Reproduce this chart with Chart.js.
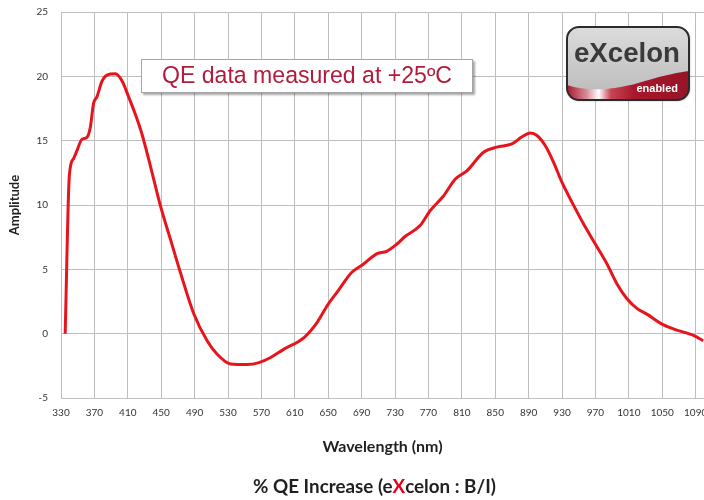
<!DOCTYPE html>
<html><head><meta charset="utf-8">
<script src="https://cdn.jsdelivr.net/npm/chart.js@4.4.1/dist/chart.umd.min.js"></script>
<style>html,body{margin:0;padding:0;background:#fff}#wrap{position:relative;width:704px;height:500px}</style>
</head><body><div id="wrap"><canvas id="c"></canvas></div>
<script>
const wavelengths = [335,340,345,349,355,361,365,369,373,379,385,395,403,411,419,427,437,449,461,473,489,505,517,533,553,567,581,597,621,637,649,662,678,692,708,720,732,742,760,772,788,802,816,836,852,870,882,892,900,910,920,930,942,956,970,984,996,1008,1020,1032,1048,1064,1088,1099];
const amplitude   = [0,12.3,13.6,14.2,15.1,15.25,16.0,17.9,18.4,19.6,20.1,20.2,19.65,18.4,17.05,15.5,13.05,9.95,7.35,4.75,1.55,-0.55,-1.6,-2.35,-2.4,-2.25,-1.85,-1.2,-0.3,0.9,2.2,3.35,4.75,5.4,6.2,6.4,6.95,7.55,8.4,9.55,10.7,12.0,12.65,14.1,14.5,14.75,15.3,15.6,15.4,14.6,13.3,11.75,10.2,8.5,6.95,5.4,3.85,2.7,1.95,1.5,0.8,0.35,-0.15,-0.55];
const xTicks = [330,370,410,450,490,530,570,610,650,690,730,770,810,850,890,930,970,1010,1050,1090];
const yTicks = [-5,0,5,10,15,20,25];
const xTitle = 'Wavelength (nm)';
const yTitle = 'Amplitude';
const annotationText = 'QE data measured at +25ºC';
const captionParts = [['% QE Increase (e','#1f1f1f'],['X','#e3001b'],['celon : B/I)','#1f1f1f']];
const logoWord = 'eXcelon';
const logoSub = 'enabled';

const points = wavelengths.map((w,i)=>({x:w,y:amplitude[i]}));

function fitFont(ctx, text, weight, family, targetW){
  ctx.font = weight+' 100px '+family;
  const w = ctx.measureText(text).width;
  return 100*targetW/w;
}

const overlay = {
  id:'overlay',
  afterDraw(chart){
    const ctx = chart.ctx;
    ctx.save();
    ctx.save();
    ctx.shadowColor='rgba(0,0,0,0.35)';
    ctx.shadowOffsetX=2; ctx.shadowOffsetY=2; ctx.shadowBlur=2;
    ctx.fillStyle='#fff';
    ctx.fillRect(141,59,332,34);
    ctx.restore();
    ctx.strokeStyle='#a6a6a6'; ctx.lineWidth=1;
    ctx.strokeRect(141.5,59.5,331,33);
    const fs = fitFont(ctx, annotationText, 'normal', '"Liberation Sans"', 290);
    ctx.font = 'normal '+fs.toFixed(2)+'px "Liberation Sans"';
    ctx.fillStyle='#b01c3c'; ctx.textAlign='center'; ctx.textBaseline='middle';
    ctx.fillText(annotationText, 307, 77);

    const lx=567, ly=27, lw=122, lh=73, r=12;
    const rr = ()=>{ctx.beginPath();ctx.roundRect(lx,ly,lw,lh,r);};
    ctx.save();
    ctx.shadowColor='rgba(0,0,0,0.3)'; ctx.shadowOffsetX=1; ctx.shadowOffsetY=1; ctx.shadowBlur=2;
    rr();
    const g = ctx.createLinearGradient(0,ly,0,ly+lh);
    g.addColorStop(0,'#dcdcdc'); g.addColorStop(1,'#b9b9b9');
    ctx.fillStyle=g; ctx.fill();
    ctx.restore();
    ctx.save();
    rr(); ctx.clip();
    ctx.beginPath();
    ctx.moveTo(lx, 85);
    ctx.bezierCurveTo(590, 93, 620, 89, 645, 81);
    ctx.bezierCurveTo(665, 75, 680, 72, lx+lw, 71);
    ctx.lineTo(lx+lw, ly+lh); ctx.lineTo(lx, ly+lh); ctx.closePath();
    const rg = ctx.createLinearGradient(lx,0,lx+lw,0);
    rg.addColorStop(0,'#a8182c'); rg.addColorStop(0.16,'#d88a96'); rg.addColorStop(0.26,'#ffffff');
    rg.addColorStop(0.36,'#c84455'); rg.addColorStop(0.55,'#a8182b'); rg.addColorStop(1,'#961426');
    ctx.fillStyle=rg; ctx.fill();
    ctx.restore();
    rr(); ctx.strokeStyle='#2b2b2b'; ctx.lineWidth=2; ctx.stroke();
    const lfs = fitFont(ctx, logoWord, 'bold', '"Liberation Sans"', 106);
    ctx.font = 'bold '+lfs.toFixed(2)+'px "Liberation Sans"';
    ctx.fillStyle='#3a3a3a'; ctx.textAlign='left'; ctx.textBaseline='alphabetic';
    ctx.fillText(logoWord, 574, 62);
    ctx.font='bold 11px "Liberation Sans"';
    ctx.fillStyle='#ffffff'; ctx.textAlign='right';
    ctx.fillText(logoSub, 678, 92);

    const full = captionParts.map(p=>p[0]).join('');
    const cfs = fitFont(ctx, full, 'bold', 'Lato', 242);
    ctx.font = 'bold '+cfs.toFixed(2)+'px Lato';
    ctx.textBaseline='middle'; ctx.textAlign='left';
    let x = 374 - ctx.measureText(full).width/2;
    for (const [t,c] of captionParts){
      ctx.fillStyle=c; ctx.fillText(t, x, 487);
      x += ctx.measureText(t).width;
    }
    ctx.restore();
  }
};

new Chart(document.getElementById('c'), {
  type:'line',
  data:{datasets:[{data:points, borderColor:'#e8141c', borderWidth:3, pointRadius:0, fill:false, cubicInterpolationMode:'monotone'}]},
  options:{
    responsive:true, maintainAspectRatio:false, animation:false, devicePixelRatio:1,
    layout:{padding:{top:12,right:0,bottom:40,left:0}},
    plugins:{legend:{display:false}, tooltip:{enabled:false}},
    scales:{
      x:{type:'linear', min:330, max:1100,
        afterBuildTicks:s=>{s.ticks = xTicks.map(v=>({value:v}));},
        afterFit:s=>{s.height=62; s.paddingLeft=0; s.paddingRight=0;},
        grid:{color:'#bdbdbd', drawTicks:false},
        border:{color:'#bdbdbd'},
        ticks:{padding:9, color:'#333333', font:{family:'Lato', size:10}, maxRotation:0, autoSkip:false, callback:v=>String(v)},
        title:{display:true, text:xTitle, color:'#1f1f1f', font:{family:'Lato', size:16, weight:'bold'}, padding:{top:0,bottom:4}}
      },
      y:{type:'linear', min:-5, max:25,
        afterBuildTicks:s=>{s.ticks = yTicks.map(v=>({value:v}));},
        afterFit:s=>{s.width=61; s.paddingTop=0; s.paddingBottom=0;},
        grid:{color:'#bdbdbd', drawTicks:false},
        border:{color:'#bdbdbd'},
        ticks:{padding:13, color:'#333333', font:{family:'Lato', size:10}, callback:v=>String(v)},
        title:{display:true, text:yTitle, color:'#1f1f1f', font:{family:'Lato', size:13, weight:'bold'}, padding:{top:7,bottom:0}}
      }
    }
  },
  plugins:[overlay]
});
</script></body></html>
